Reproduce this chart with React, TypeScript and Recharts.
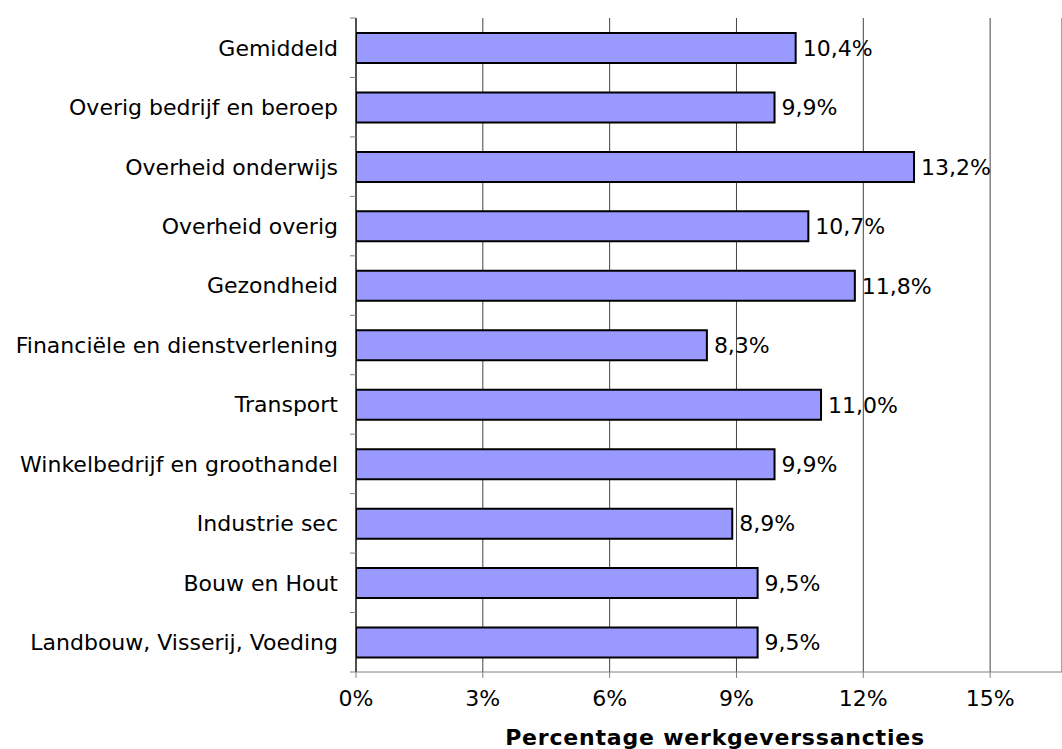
import React from 'react';
import { BarChart, Bar, XAxis, YAxis, CartesianGrid, LabelList } from 'recharts';

const categories = [
  'Gemiddeld',
  'Overig bedrijf en beroep',
  'Overheid onderwijs',
  'Overheid overig',
  'Gezondheid',
  'Financiële en dienstverlening',
  'Transport',
  'Winkelbedrijf en groothandel',
  'Industrie sec',
  'Bouw en Hout',
  'Landbouw, Visserij, Voeding',
];
const values = [10.4, 9.9, 13.2, 10.7, 11.8, 8.3, 11.0, 9.9, 8.9, 9.5, 9.5];
const xTicks = [0, 3, 6, 9, 12, 15];

const data = categories.map((name, i) => ({ name, value: values[i] }));

const W = 1062;
const H = 749;
const TOP = 18;
const BOTTOM = 77;
const LEFT = 356;
const BAND = (H - TOP - BOTTOM) / categories.length;
const FONT = '"DejaVu Sans", Verdana, sans-serif';
const FS = 22;

const fmt = (v: number) => v.toFixed(1).replace('.', ',') + '%';

const CategoryTick = (props: any) => {
  const { y, payload, index } = props;
  return (
    <g>
      <text x={LEFT - 18} y={y} dy="0.36em" textAnchor="end" fontSize={FS} fill="#000" fontFamily={FONT}>
        {payload.value}
      </text>
      <line x1={LEFT - 6} x2={LEFT} y1={y - BAND / 2} y2={y - BAND / 2} stroke="#808080" />
      {index === categories.length - 1 && (
        <line x1={LEFT - 6} x2={LEFT} y1={y + BAND / 2} y2={y + BAND / 2} stroke="#808080" />
      )}
    </g>
  );
};

const AxisTitle = () => (
  <text
    x={715}
    y={745}
    textAnchor="middle"
    fontSize={FS}
    fontWeight="bold"
    fill="#000"
    fontFamily={FONT}
    letterSpacing={0.8}
  >
    Percentage werkgeverssancties
  </text>
);

export default function App() {
  return (
    <div style={{ position: 'absolute', left: 0, top: 0, width: W, height: H, background: '#fff' }}>
      <BarChart
        width={W}
        height={H}
        data={data}
        layout="vertical"
        margin={{ top: TOP, right: 0, bottom: 0, left: 0 }}
        barCategoryGap={0}
      >
        <CartesianGrid horizontal={false} stroke="#444" strokeWidth={1} />
        <XAxis
          type="number"
          domain={[0, 16.7]}
          ticks={xTicks}
          allowDataOverflow
          height={BOTTOM}
          tickFormatter={(v: number) => v + '%'}
          tick={{ fontSize: FS, fill: '#000', fontFamily: FONT }}
          stroke="#808080"
          tickSize={6}
          tickMargin={12}
          label={<AxisTitle />}
        />
        <YAxis
          type="category"
          dataKey="name"
          width={LEFT}
          tick={<CategoryTick />}
          tickLine={false}
          stroke="#000"
          interval={0}
        />
        <Bar dataKey="value" fill="#9999FF" stroke="#000" strokeWidth={2} barSize={30} isAnimationActive={false}>
          <LabelList
            dataKey="value"
            position="right"
            offset={7}
            formatter={(v: any) => fmt(Number(v))}
            style={{ fontSize: FS, fill: '#000', fontFamily: FONT }}
          />
        </Bar>
      </BarChart>
    </div>
  );
}
